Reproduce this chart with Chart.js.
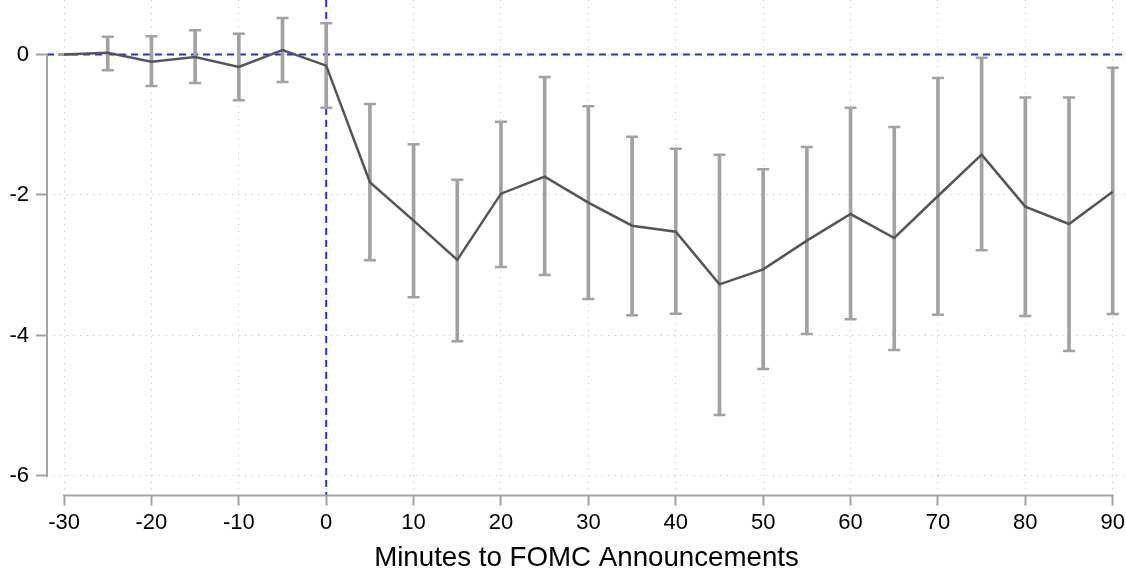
<!DOCTYPE html>
<html>
<head>
<meta charset="utf-8">
<script src="https://cdn.jsdelivr.net/npm/chart.js@4.4.1/dist/chart.umd.min.js"></script>
<style>
  html, body { margin: 0; padding: 0; background: #ffffff; }
  canvas { display: block; }
</style>
</head>
<body>
<canvas id="c" width="1126" height="579"></canvas>
<script>
// ---- data ----
const minutes = [-30, -25, -20, -15, -10, -5, 0, 5, 10, 15, 20, 25, 30, 35, 40, 45, 50, 55, 60, 65, 70, 75, 80, 85, 90];
const coef  = [0, 0.026, -0.102, -0.036, -0.178, 0.064, -0.159, -1.819, -2.365, -2.925, -1.981, -1.739, -2.109, -2.437, -2.522, -3.272, -3.058, -2.650, -2.271, -2.612, -2.014, -1.426, -2.166, -2.413, -1.953];
const upper = [0, 0.253, 0.259, 0.344, 0.296, 0.520, 0.444, -0.705, -1.279, -1.782, -0.956, -0.320, -0.738, -1.172, -1.341, -1.426, -1.635, -1.317, -0.757, -1.032, -0.335, -0.045, -0.612, -0.612, -0.188];
const lower = [0, -0.225, -0.448, -0.406, -0.652, -0.391, -0.757, -2.930, -3.457, -4.083, -3.025, -3.139, -3.480, -3.713, -3.689, -5.132, -4.477, -3.979, -3.770, -4.206, -3.704, -2.787, -3.722, -4.221, -3.694];
const xTickValues = [-30, -20, -10, 0, 10, 20, 30, 40, 50, 60, 70, 80, 90];
const yTickValues = [0, -2, -4, -6];
const xRefLines = [0];
const yRefLines = [0];
const xTitle = 'Minutes to FOMC Announcements';
const xRange = [-31.95, 91.52];
const yRange = [-6.278, 0.776];

// ---- styles ----
const FONT = '"Liberation Sans", Arial, Helvetica, sans-serif';
const AXIS = '#a3a3a3';
const GRID = '#bdbdbd';
const ERR = '#a2a2a2';
const LINE = '#565656';
const BLUE = '#1f2ff0';

const refAndAxes = {
  id: 'refAndAxes',
  beforeDatasetsDraw(chart) {
    const { ctx, chartArea: a, scales: { x, y } } = chart;
    ctx.save();
    // blue dashed reference lines
    ctx.strokeStyle = BLUE;
    ctx.lineWidth = 2;
    ctx.setLineDash([7, 5]);
    yRefLines.forEach(v => {
      const py = y.getPixelForValue(v);
      ctx.beginPath(); ctx.moveTo(a.left, py); ctx.lineTo(a.right, py); ctx.stroke();
    });
    xRefLines.forEach(v => {
      const px = x.getPixelForValue(v);
      ctx.beginPath(); ctx.moveTo(px, a.top); ctx.lineTo(px, a.bottom); ctx.stroke();
    });
    // axis lines spanning only the tick range
    ctx.setLineDash([]);
    ctx.strokeStyle = AXIS;
    ctx.lineWidth = 2;
    ctx.beginPath();
    ctx.moveTo(a.left, y.getPixelForValue(yTickValues[0]) - 1);
    ctx.lineTo(a.left, y.getPixelForValue(yTickValues[yTickValues.length - 1]) + 1);
    ctx.stroke();
    ctx.beginPath();
    ctx.moveTo(x.getPixelForValue(xTickValues[0]) - 1, a.bottom);
    ctx.lineTo(x.getPixelForValue(xTickValues[xTickValues.length - 1]) + 1, a.bottom);
    ctx.stroke();
    ctx.restore();
  }
};

const capStyle = {
  type: 'line', showLine: false, pointStyle: 'line', pointRadius: 6,
  pointBorderColor: ERR, pointBorderWidth: 2.5, pointHoverRadius: 6, order: 1
};

new Chart(document.getElementById('c'), {
  type: 'line',
  data: {
    datasets: [
      {
        type: 'line',
        data: minutes.map((m, i) => ({ x: m, y: coef[i] })),
        borderColor: LINE, borderWidth: 2.5, pointRadius: 0, tension: 0, fill: false, order: 0
      },
      Object.assign({ data: minutes.map((m, i) => ({ x: m, y: upper[i] })) }, capStyle),
      Object.assign({ data: minutes.map((m, i) => ({ x: m, y: lower[i] })) }, capStyle),
      {
        type: 'bar',
        data: minutes.map((m, i) => ({ x: m, y: [lower[i], upper[i]] })),
        backgroundColor: ERR, borderWidth: 0, barThickness: 3, order: 2
      }
    ]
  },
  options: {
    responsive: false,
    animation: false,
    devicePixelRatio: 1,
    events: [],
    layout: { padding: 0, autoPadding: false },
    plugins: { legend: { display: false }, tooltip: { enabled: false } },
    scales: {
      x: {
        type: 'linear', min: xRange[0], max: xRange[1], offset: false,
        afterBuildTicks: s => { s.ticks = xTickValues.map(v => ({ value: v })); },
        afterFit: s => { s.height = 83.5; s.paddingLeft = 0; s.paddingRight = 0; },
        grid: {
          display: true, drawOnChartArea: true, drawTicks: true, offset: false,
          color: GRID, lineWidth: 1, tickLength: 10, tickColor: AXIS, tickWidth: 2
        },
        border: { display: false, dash: [1, 5.6] },
        ticks: {
          autoSkip: false, maxRotation: 0, minRotation: 0, padding: 4, color: '#000000',
          font: { family: FONT, size: 22 }, callback: v => String(v)
        },
        title: {
          display: true, text: xTitle, color: '#000000',
          font: { family: FONT, size: 27.7 }, padding: { top: 0, bottom: 4 }
        }
      },
      y: {
        type: 'linear', min: yRange[0], max: yRange[1],
        afterBuildTicks: s => { s.ticks = yTickValues.map(v => ({ value: v })); },
        afterFit: s => { s.width = 47; s.paddingTop = 0; s.paddingBottom = 0; },
        grid: {
          display: true, drawOnChartArea: true, drawTicks: true,
          color: GRID, lineWidth: 1, tickLength: 11, tickColor: AXIS, tickWidth: 2
        },
        border: { display: false, dash: [1, 5.6] },
        ticks: {
          autoSkip: false, padding: 7, color: '#000000',
          font: { family: FONT, size: 22 }, callback: v => String(v)
        }
      }
    }
  },
  plugins: [refAndAxes]
});
</script>
</body>
</html>
